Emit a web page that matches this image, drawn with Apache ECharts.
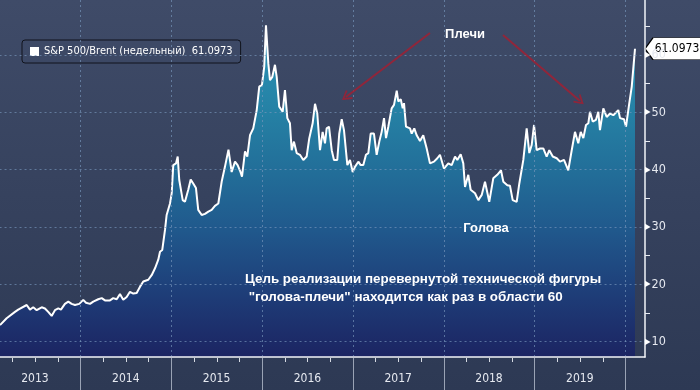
<!DOCTYPE html>
<html>
<head>
<meta charset="utf-8">
<script src="https://cdn.jsdelivr.net/npm/echarts@6/dist/echarts.min.js"></script>
<style>html,body{margin:0;padding:0;background:#34405c}#c{width:700px;height:390px}</style>
</head>
<body>
<div id="c"></div>
<script>
// Series name and weekly readings (x = decimal year, value = S&P 500 / Brent)
const seriesName = 'S&P 500/Brent (недельный)';
const years = [
2013.115,2013.188,2013.280,2013.316,2013.409,2013.445,2013.481,2013.519,2013.574,2013.610,
2013.646,2013.684,2013.720,2013.757,2013.786,2013.830,2013.867,2013.904,2013.941,2013.988,
2014.032,2014.062,2014.106,2014.142,2014.197,2014.235,2014.271,2014.326,2014.362,2014.400,
2014.436,2014.472,2014.510,2014.546,2014.583,2014.620,2014.657,2014.693,2014.748,2014.785,
2014.822,2014.858,2014.877,2014.902,2014.932,2014.950,2014.987,2015.006,2015.023,2015.053,
2015.072,2015.089,2015.127,2015.152,2015.188,2015.215,2015.243,2015.273,2015.298,2015.336,
2015.372,2015.409,2015.446,2015.482,2015.519,2015.556,2015.592,2015.631,2015.666,2015.703,
2015.732,2015.763,2015.780,2015.813,2015.838,2015.868,2015.904,2015.942,2015.970,2016.000,
2016.025,2016.044,2016.070,2016.088,2016.114,2016.143,2016.162,2016.190,2016.228,2016.253,
2016.279,2016.308,2016.327,2016.352,2016.382,2016.418,2016.455,2016.492,2016.521,2016.558,
2016.584,2016.609,2016.639,2016.668,2016.694,2016.712,2016.738,2016.768,2016.793,2016.829,
2016.851,2016.878,2016.903,2016.925,2016.940,2016.969,2016.999,2017.024,2017.061,2017.087,
2017.116,2017.145,2017.171,2017.197,2017.233,2017.263,2017.292,2017.318,2017.344,2017.366,
2017.391,2017.428,2017.454,2017.484,2017.501,2017.528,2017.550,2017.564,2017.586,2017.630,
2017.649,2017.677,2017.704,2017.740,2017.776,2017.814,2017.850,2017.894,2017.931,2017.960,
2018.004,2018.052,2018.089,2018.126,2018.151,2018.188,2018.217,2018.236,2018.272,2018.298,
2018.346,2018.382,2018.420,2018.456,2018.503,2018.547,2018.591,2018.632,2018.658,2018.702,
2018.731,2018.761,2018.805,2018.834,2018.878,2018.915,2018.944,2018.970,2018.996,2019.025,
2019.062,2019.098,2019.135,2019.164,2019.202,2019.246,2019.282,2019.326,2019.373,2019.411,
2019.447,2019.483,2019.510,2019.539,2019.568,2019.594,2019.612,2019.642,2019.678,2019.704,
2019.722,2019.759,2019.796,2019.833,2019.869,2019.924,2019.943,2019.987,2020.009,2020.045,
2020.072,2020.097,2020.108
];
const ratio = [
12.9,14.1,15.2,15.6,16.4,15.6,16.0,15.5,16.0,15.8,
15.2,14.5,15.5,15.8,15.6,16.6,17.0,16.6,16.4,16.6,
17.3,16.8,16.6,17.0,17.4,17.6,17.2,17.2,17.6,17.4,
18.3,17.3,17.8,18.7,18.4,18.5,19.6,20.5,20.8,21.6,
22.8,24.3,25.7,26.0,29.5,32.1,34.1,35.9,40.8,41.1,
42.3,38.2,34.7,34.4,36.5,38.3,37.6,36.8,33.0,32.1,
32.3,32.7,33.0,33.7,34.1,37.9,40.5,43.5,39.6,41.4,
40.8,39.6,38.8,43.2,42.3,46.0,47.2,50.4,54.5,54.8,
58.0,65.2,58.5,55.6,56.2,58.3,56.2,51.0,50.1,53.9,
49.0,48.1,43.4,44.9,42.9,42.6,41.7,42.3,45.5,48.1,
51.5,49.8,43.4,46.6,44.6,47.2,47.5,43.4,41.7,41.7,
46.3,48.8,46.9,46.6,40.8,41.7,39.6,40.5,41.4,40.8,
40.8,42.6,42.9,46.3,46.3,42.6,44.9,46.6,49.0,45.5,
47.5,50.7,51.3,53.8,51.9,52.3,50.7,51.6,47.5,47.2,
46.3,47.2,46.0,45.0,46.0,43.7,41.1,41.4,42.0,42.6,
40.2,41.1,40.8,42.3,41.7,42.7,41.1,37.0,39.1,36.5,
35.9,34.7,35.6,37.9,34.4,38.5,39.1,39.9,37.9,37.3,
37.2,34.7,34.4,37.6,41.7,47.2,42.9,44.3,47.8,43.4,
43.7,43.7,42.3,43.4,42.3,42.0,41.4,41.7,39.9,43.4,
46.6,44.6,46.6,45.5,47.8,48.1,50.1,48.4,48.7,50.1,
46.9,50.7,49.2,49.8,49.5,50.4,49.0,48.8,47.5,51.6,
54.5,59.1,61.0973
];
// Year labels along the bottom, year boundaries and quarter ticks
const yearLabels = ['2013','2014','2015','2016','2017','2018','2019'];
const yearBounds = [2014,2015,2016,2017,2018,2019,2020];
const quarterTicks = [];
yearLabels.forEach(y => [0.25, 0.5, 0.75].forEach(q => quarterTicks.push(+y + q)));
// Annotation arrows (from label toward the shoulders), in data coordinates
const arrowFrom = [[2017.850, 63.84],[2018.654, 63.49]];
const arrowTo   = [[2016.925, 52.68],[2019.502, 51.98]];
const shouldersText = 'Плечи';
const headText = 'Голова';
const noteText = 'Цель реализации перевернутой технической фигуры\n "голова-плечи" находится как раз в области 60';

const X_MIN = 2013, X_MAX = 2020.218, Y_MIN = 7.33, Y_MAX = 69.6;
const FONT = "'DejaVu Sans Condensed','DejaVu Sans',sans-serif";
const BOLD = "'Liberation Sans',Arial,sans-serif";
const lastVal = ratio[ratio.length - 1];
const points = years.map((t, i) => [t, ratio[i]]);
const gridLine = {type: [2, 3], color: 'rgba(120,150,188,0.65)', width: 1, opacity: 1};
const chevron = 'path://M5,0 L10,9 L8.6,10 L5,3.2 L1.4,10 L0,9 Z';

const chart = echarts.init(document.getElementById('c'), null, {renderer: 'canvas'});
chart.setOption({
  animation: false,
  backgroundColor: new echarts.graphic.LinearGradient(0, 0, 0, 1, [
    {offset: 0, color: '#3f4b68'}, {offset: 1, color: '#2d3954'}
  ]),
  grid: {left: -10.44, right: 55, top: 0, bottom: 33, containLabel: false, outerBoundsMode: 'none'},
  legend: {
    left: 22, top: 40, data: [seriesName], icon: 'rect', itemWidth: 9, itemHeight: 9, itemGap: 6,
    padding: [6, 8, 6, 8], borderColor: '#10131c', borderWidth: 1, borderRadius: 3,
    backgroundColor: 'rgba(0,0,0,0)',
    textStyle: {color: '#ffffff', fontSize: 11, fontFamily: FONT},
    formatter: n => n + '  ' + lastVal.toFixed(4)
  },
  xAxis: {
    type: 'value', position: 'bottom', min: X_MIN, max: X_MAX, z: 5,
    axisLine: {onZero: false, lineStyle: {color: '#f2f4f8', width: 1.5}},
    axisTick: {show: false},
    minorTick: {show: false},
    axisLabel: {
      customValues: yearLabels.map(y => +y + 0.5),
      formatter: v => String(Math.floor(v)),
      color: '#e6e9f0', fontSize: 12, fontFamily: FONT, margin: 16
    },
    splitLine: {show: false}
  },
  yAxis: {
    type: 'value', position: 'right', min: Y_MIN, max: Y_MAX, z: 5,
    axisLine: {show: true, onZero: false, lineStyle: {color: '#f2f4f8', width: 1.5}},
    axisTick: {show: false},
    minorTick: {show: true, splitNumber: 2, length: 5, lineStyle: {color: '#e8ebf2'}},
    minorSplitLine: {show: false},
    axisLabel: {
      showMinLabel: false, showMaxLabel: false, margin: 0,
      formatter: v => '{t|▶}{n|' + v + '}',
      rich: {
        t: {fontSize: 8, color: '#ffffff', fontFamily: FONT},
        n: {fontSize: 12.5, color: '#e6e9f0', fontFamily: FONT, padding: [0, 0, 0, 1]}
      }
    },
    splitLine: {show: true, showMinLine: false, showMaxLine: false, lineStyle: gridLine}
  },
  series: [{
    name: seriesName, type: 'line', data: points,
    symbol: 'none', showSymbol: false, color: '#ffffff', z: 3,
    lineStyle: {color: '#ffffff', width: 2},
    areaStyle: {
      origin: 'start', opacity: 1,
      color: new echarts.graphic.LinearGradient(0, 0, 0, 1, [
        {offset: 0, color: '#2b95b8'},
        {offset: 0.27, color: '#2580a4'},
        {offset: 0.45, color: '#226d98'},
        {offset: 0.62, color: '#20588c'},
        {offset: 0.82, color: '#1e3c77'},
        {offset: 1, color: '#1c2462'}
      ])
    },
    markPoint: {
      silent: true,
      symbol: 'path://M0,11 L8,0 L58,0 L58,22 L8,22 Z',
      symbolSize: [58, 22], symbolOffset: [29, 0],
      itemStyle: {color: '#ffffff', borderColor: '#000000', borderWidth: 1},
      label: {show: true, position: 'inside', color: '#000000', fontSize: 12, fontFamily: FONT,
              offset: [3, 0], formatter: () => lastVal.toFixed(4)},
      data: [{coord: [X_MAX, lastVal]}]
    },
    markLine: {
      silent: true, animation: false,
      symbol: ['none', chevron], symbolSize: [11, 10],
      label: {show: false},
      lineStyle: {color: 'rgba(160,32,50,0.85)', width: 2, type: 'solid', opacity: 1},
      emphasis: {disabled: true},
      data: arrowFrom.map((f, i) => [{coord: f}, {coord: arrowTo[i]}])
    }
  }]
});

// Year gridlines, separators and quarter ticks placed through the axis scale
const yTop = chart.convertToPixel({yAxisIndex: 0}, Y_MAX);
const yBot = chart.convertToPixel({yAxisIndex: 0}, Y_MIN);
const H = chart.getHeight();
const deco = [];
yearBounds.forEach(y => {
  const px = Math.round(chart.convertToPixel({xAxisIndex: 0}, y)) + 0.5;
  deco.push({type: 'line', silent: true, z: 4, shape: {x1: px, y1: yTop, x2: px, y2: yBot - 1},
             style: {stroke: 'rgba(120,150,188,0.65)', lineWidth: 1, lineDash: [2, 3]}});
  deco.push({type: 'line', silent: true, z: 4, shape: {x1: px, y1: yBot + 1, x2: px, y2: H},
             style: {stroke: '#9aa3b5', lineWidth: 1}});
});
quarterTicks.forEach(q => {
  const px = Math.round(chart.convertToPixel({xAxisIndex: 0}, q)) + 0.5;
  deco.push({type: 'line', silent: true, z: 4, shape: {x1: px, y1: yBot + 1, x2: px, y2: yBot + 5},
             style: {stroke: '#d5d9e2', lineWidth: 1}});
});
const texts = [
  {type: 'text', x: 465, y: 34, z: 100,
   style: {text: shouldersText, fill: '#ffffff', font: 'bold 13px ' + BOLD, align: 'center', verticalAlign: 'middle'}},
  {type: 'text', x: 486, y: 228, z: 100,
   style: {text: headText, fill: '#ffffff', font: 'bold 13px ' + BOLD, align: 'center', verticalAlign: 'middle'}},
  {type: 'text', x: 245, y: 270, z: 100,
   style: {text: noteText, fill: '#ffffff', font: 'bold 13.4px ' + BOLD, lineHeight: 18, align: 'left', verticalAlign: 'top'}}
];
chart.setOption({graphic: deco.concat(texts)});
</script>
</body>
</html>
